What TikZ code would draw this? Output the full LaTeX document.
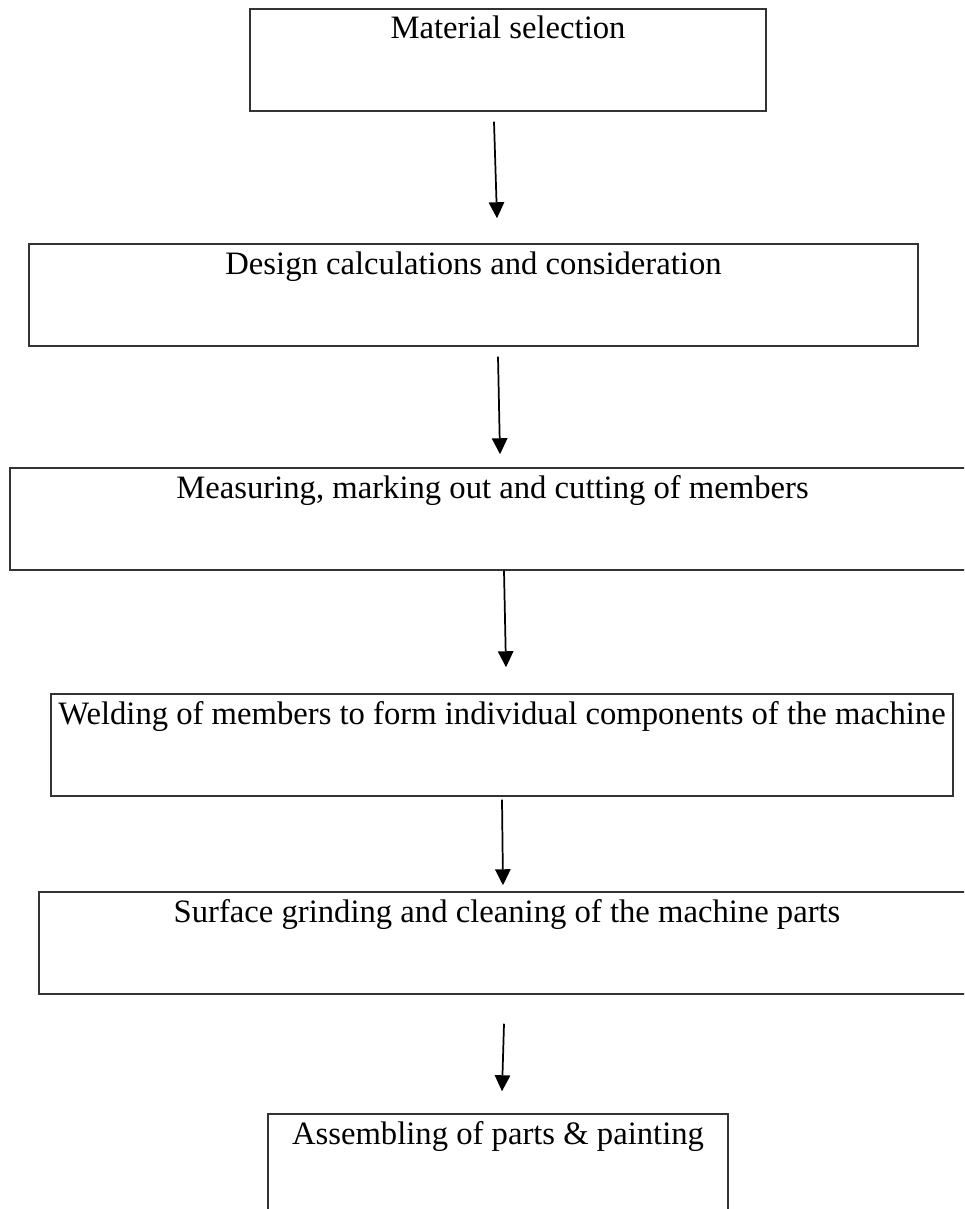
\documentclass[tikz,border=0pt]{standalone}
\usepackage{fontspec}
\setmainfont{Liberation Serif}
\usepackage{tikz}
\usetikzlibrary{arrows.meta, calc}
\definecolor{boxline}{HTML}{333333}

\begin{document}
\begin{tikzpicture}[x=0.75pt, y=-0.75pt,
    stage/.style={rectangle, draw=boxline, line width=1.1pt, minimum width=#1, inner xsep=0pt, inner ysep=0pt, text height=22.5pt, text depth=54pt, font=\fontsize{24.5}{29}\selectfont},
    flow/.style={-{Triangle[width=11.5pt, length=12pt]}, line width=1.3pt}
]
\useasboundingbox (0,0) rectangle (964,1209);
\clip (0,0) rectangle (964,1209);

\node[stage=387pt] (mat) at (508,60) {Material selection};
\node[stage=666.75pt] (des) at (473.5,295) {Design calculations and consideration};
\node[stage=723.75pt] (mea) at (492.5,519) {Measuring, marking out and cutting of members};
\node[stage=676.5pt] (wel) at (502,745) {Welding of members to form individual components of the machine};
\node[stage=702pt] (sur) at (507,943) {Surface grinding and cleaning of the machine parts};
\node[stage=345pt] (asm) at (498,1165) {Assembling of parts \& painting};

% arrows between the stages
\draw[flow] ($(mat.south)+(-14,10)$) -- ($(des.north)+(23.5,-25)$);
\draw[flow] ($(des.south)+(24.5,10)$) -- ($(mea.north)+(7.5,-13)$);
\draw[flow] ($(mea.south)+(11.5,0)$) -- ($(wel.north)+(4,-26)$);
\draw[flow] ($(wel.south)+(0,3)$) -- ($(sur.north)+(-4,-6)$);
\draw[flow] ($(sur.south)+(-3,29)$) -- ($(asm.north)+(4,-22)$);

\end{tikzpicture}
\end{document}
